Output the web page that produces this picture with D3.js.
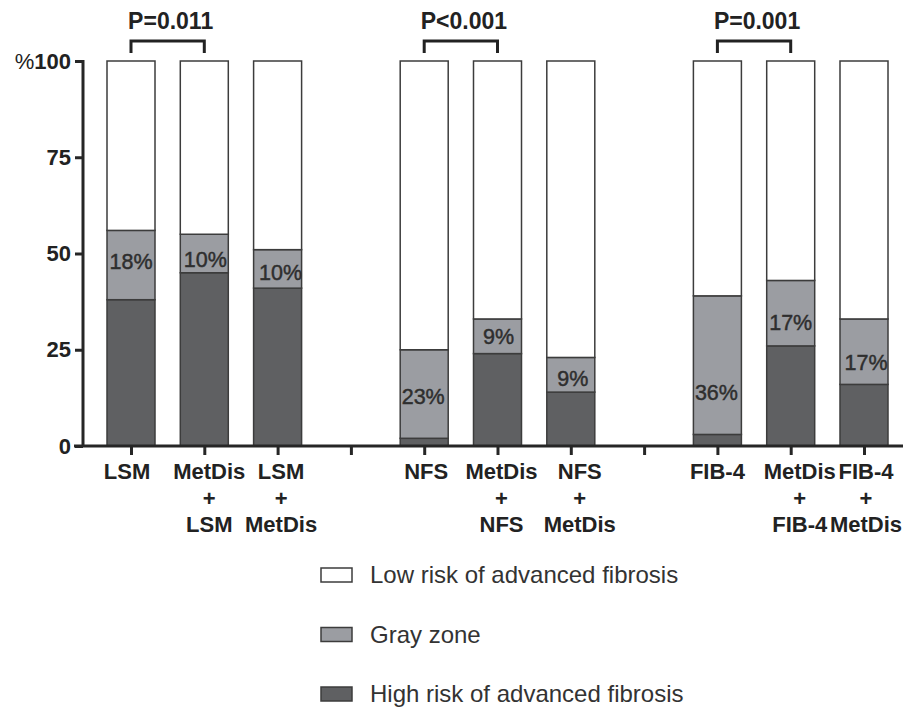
<!DOCTYPE html>
<html>
<head>
<meta charset="utf-8">
<script src="https://cdn.jsdelivr.net/npm/d3@7/dist/d3.min.js"></script>
<style>
  html, body { margin: 0; padding: 0; background: #fff; }
  svg { display: block; }
  text { font-family: "Liberation Sans", Arial, Helvetica, sans-serif; }
</style>
</head>
<body>
<svg id="chart" width="903" height="708"></svg>
<script>
// ---------- data ----------
const slots = ["LSM", "MetDis+LSM", "LSM+MetDis", "gap1",
               "NFS", "MetDis+NFS", "NFS+MetDis", "gap2",
               "FIB-4", "MetDis+FIB-4", "FIB-4+MetDis"];
const categories = ["LSM", "MetDis+LSM", "LSM+MetDis",
                    "NFS", "MetDis+NFS", "NFS+MetDis",
                    "FIB-4", "MetDis+FIB-4", "FIB-4+MetDis"];
const categoryLabels = [["LSM"], ["MetDis", "+", "LSM"], ["LSM", "+", "MetDis"],
                        ["NFS"], ["MetDis", "+", "NFS"], ["NFS", "+", "MetDis"],
                        ["FIB-4"], ["MetDis", "+", "FIB-4"], ["FIB-4", "+", "MetDis"]];
const highRisk = [38, 45, 41, 2, 24, 14, 3, 26, 16];
const grayZone = [18, 10, 10, 23, 9, 9, 36, 17, 17];
const lowRisk  = [44, 45, 49, 75, 67, 77, 61, 57, 67];
const grayLabels = ["18%", "10%", "10%", "23%", "9%", "9%", "36%", "17%", "17%"];
const yTicks = [0, 25, 50, 75, 100];
const seriesNames = ["Low risk of advanced fibrosis", "Gray zone", "High risk of advanced fibrosis"];
const comparisons = [
  { from: "LSM", to: "MetDis+LSM", label: "P=0.011" },
  { from: "NFS", to: "MetDis+NFS", label: "P<0.001" },
  { from: "FIB-4", to: "MetDis+FIB-4", label: "P=0.001" }
];

// ---------- layout / styles ----------
const colors = { low: "#ffffff", gray: "#9b9da2", high: "#5f6062" };
const axisColor = "#262626";
const barStroke = "#3c3c3c";
// small pixel nudges of text placement, as in the original figure
const catLabelNudgeX = [-4, 5, 3.5, 2, 4, 9, 0, 9, 2];
const grayLabelNudgeX = [0, 1, 3, -1, 1, 2, -1, 0, 2];
const grayLabelNudgeY = [-4, 6, 3, 2, 0, 3, 27, 9, 11];

const svg = d3.select("#chart");

const x = d3.scalePoint().domain(slots).range([131, 864]);
const y = d3.scaleLinear().domain([0, 100]).range([446, 61]);
const barW = 48;

// stacked data
const rows = categories.map((c, i) => ({ cat: c, high: highRisk[i], gray: grayZone[i], low: lowRisk[i] }));
const stack = d3.stack().keys(["high", "gray", "low"]);
const layers = stack(rows);

const g = svg.append("g");
layers.forEach(layer => {
  g.append("g").selectAll("rect").data(layer).join("rect")
    .attr("x", d => x(d.data.cat) - barW / 2)
    .attr("y", d => y(d[1]))
    .attr("width", barW)
    .attr("height", d => y(d[0]) - y(d[1]))
    .attr("fill", colors[layer.key])
    .attr("stroke", barStroke)
    .attr("stroke-width", 1.5);
});

// gray zone labels
const grayLayer = layers[1];
g.append("g").selectAll("text").data(grayLayer).join("text")
  .attr("x", (d, i) => x(d.data.cat) + grayLabelNudgeX[i])
  .attr("y", (d, i) => y((d[0] + d[1]) / 2) + grayLabelNudgeY[i])
  .attr("dy", "0.36em")
  .attr("text-anchor", "middle")
  .attr("font-size", 21.5)
  .attr("fill", "#2e2e2e")
  .attr("stroke", "#2e2e2e")
  .attr("stroke-width", 0.45)
  .text((d, i) => grayLabels[i]);

// y axis
const yAxis = svg.append("g").attr("transform", `translate(83,0)`)
  .call(d3.axisLeft(y).tickValues(yTicks).tickSize(8).tickPadding(4).tickFormat(d => d));
yAxis.select(".domain").attr("stroke", axisColor).attr("stroke-width", 3)
  .attr("d", `M0,${y(0)}V${y(100) - 1}`);
yAxis.selectAll(".tick line").attr("stroke", axisColor).attr("stroke-width", 3);
yAxis.selectAll(".tick text").attr("font-size", 22).attr("font-weight", "bold")
  .attr("fill", "#222").attr("font-family", "Liberation Sans, Arial, sans-serif");
// "%" prefix on 100
yAxis.selectAll(".tick").filter(d => d === 100).select("text")
  .text(null)
  .call(t => {
    t.append("tspan").attr("font-weight", "normal").text("%");
    t.append("tspan").text("100");
  });

// x axis
const xAxis = svg.append("g").attr("transform", `translate(0,${y(0)})`)
  .call(d3.axisBottom(x).tickSize(9).tickFormat(""));
xAxis.select(".domain").attr("stroke", axisColor).attr("stroke-width", 3)
  .attr("d", `M74,0H903`);
xAxis.selectAll(".tick line").attr("stroke", axisColor).attr("stroke-width", 3);

// category labels
const labG = svg.append("g");
categories.forEach((c, i) => {
  const cx = x(c) + catLabelNudgeX[i];
  const t = labG.append("text")
    .attr("x", cx)
    .attr("text-anchor", "middle")
    .attr("font-size", 22)
    .attr("font-weight", "bold")
    .attr("fill", "#222");
  categoryLabels[i].forEach((line, j) => {
    t.append("tspan").attr("x", cx).attr("y", 479 + j * 26.5).text(line);
  });
});

// comparison brackets
comparisons.forEach(cmp => {
  const x1 = x(cmp.from), x2 = x(cmp.to);
  svg.append("path")
    .attr("d", `M${x1},53V41H${x2}V53`)
    .attr("fill", "none")
    .attr("stroke", "#222")
    .attr("stroke-width", 3);
  svg.append("text")
    .attr("x", (x1 + x2) / 2 + 3)
    .attr("y", 29)
    .attr("text-anchor", "middle")
    .attr("font-size", 23)
    .attr("font-weight", "bold")
    .attr("fill", "#222")
    .text(cmp.label);
});

// legend
const legendKeys = ["low", "gray", "high"];
const leg = svg.append("g");
seriesNames.forEach((name, i) => {
  const cy = 575 + i * 59.5;
  leg.append("rect")
    .attr("x", 321).attr("y", cy - 7)
    .attr("width", 31).attr("height", 14)
    .attr("fill", colors[legendKeys[i]])
    .attr("stroke", barStroke).attr("stroke-width", 1.5);
  leg.append("text")
    .attr("x", 370).attr("y", cy)
    .attr("dy", "0.35em")
    .attr("font-size", 24)
    .attr("fill", "#333")
    .text(name);
});
</script>
</body>
</html>
